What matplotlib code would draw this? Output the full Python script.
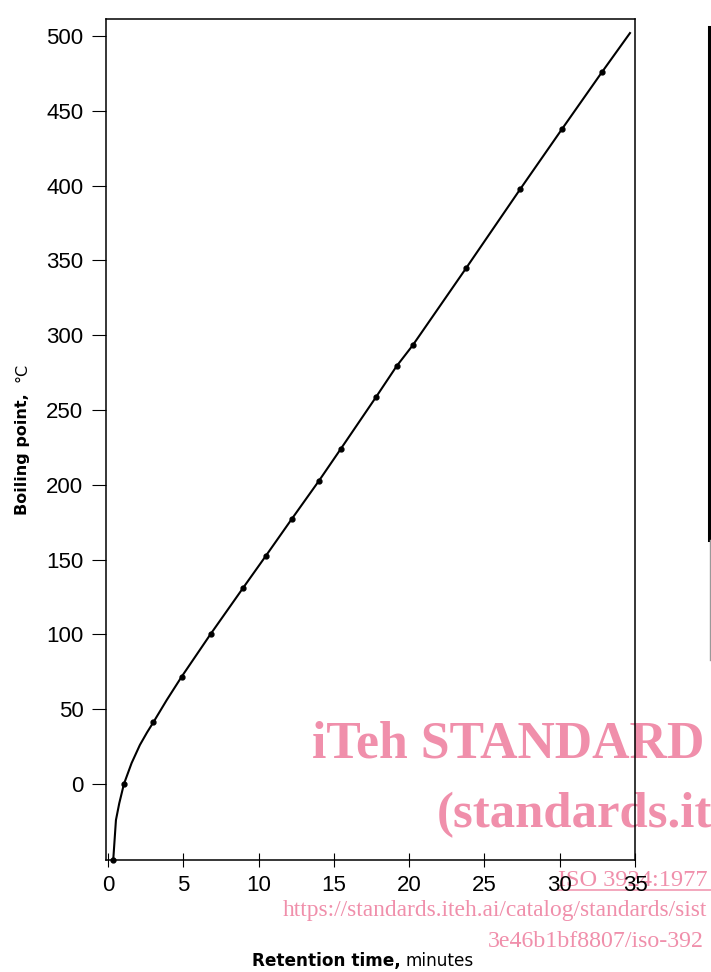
import matplotlib
matplotlib.use("Agg")
import matplotlib.pyplot as plt
from matplotlib.lines import Line2D

# measured points (retention time, min / boiling point, degC)
marker_time = [0.35, 1.06, 3.01, 4.89, 6.82, 8.98, 10.49, 12.20, 14.01, 15.45,
               17.80, 19.17, 20.23, 23.77, 27.36, 30.13, 32.80]
marker_bp = [-50.8, 0, 41.2, 71.7, 100.3, 131.2, 152.6, 177.1, 202.7, 223.9,
             258.7, 279.4, 293.2, 344.7, 397.5, 437.6, 475.9]

# hand-drawn calibration curve
curve_time = [0.35, 0.53, 0.75, 1.06, 1.57, 2.12, 2.59, 3.01, 3.90, 4.89, 6.82,
              8.98, 10.49, 12.20, 14.01, 15.45, 17.80, 19.17, 20.23, 23.77,
              27.36, 30.13, 32.80, 34.66]
curve_bp = [-50.8, -24.1, -12.9, 0, 14.0, 26.1, 34.4, 41.2, 56.1, 71.7, 100.3,
            131.2, 152.6, 177.1, 202.7, 223.9, 258.7, 279.4, 293.2, 344.7,
            397.5, 437.6, 475.9, 502.0]

x_ticks = [0, 5, 10, 15, 20, 25, 30, 35]
y_ticks = [0, 50, 100, 150, 200, 250, 300, 350, 400, 450, 500]

W, H = 711, 972
pink = '#F08FAB'

fig = plt.figure(figsize=(W / 100, H / 100), dpi=100)
fig.patch.set_facecolor('white')


def fx(px):
    return px / W


def fy(py):
    return 1 - py / H


ax = fig.add_axes([fx(105.7), fy(860), fx(635.1) - fx(105.7), fy(19) - fy(860)])
ax.set_facecolor('none')

ax.plot(curve_time, curve_bp, color='black', lw=1.5, clip_on=False, zorder=3,
        solid_joinstyle='round')
ax.plot(marker_time, marker_bp, 'o', color='black', ms=3.5, clip_on=False, zorder=4)

ax.set_xlim(-0.15, 35)
ax.set_ylim(-50.8, 511.4)
ax.set_xticks(x_ticks)
ax.set_yticks(y_ticks)
for s in ax.spines.values():
    s.set_linewidth(1.1)

ax.tick_params(axis='x', direction='inout', length=9.4, width=0.8, pad=6,
               labelsize=16)
ax.tick_params(axis='y', direction='out', length=10, width=0.8, pad=6,
               labelsize=16)
for lab in ax.get_xticklabels() + ax.get_yticklabels():
    lab.set_fontfamily('Liberation Sans')

# axis titles: bold part + plain unit right behind it
t1 = fig.text(fx(252), fy(966), 'Retention time,', fontsize=12.2, fontweight='bold',
              ha='left', va='baseline')
r = fig.canvas.get_renderer()
x_end = t1.get_window_extent(r).x1
fig.text(fx(x_end + 5), fy(966), 'minutes', fontsize=12.2, ha='left', va='baseline')
fig.text(fx(27), fy(515), 'Boiling point,', fontsize=11.5, fontweight='bold',
         rotation=90, rotation_mode='anchor', ha='left', va='baseline')
fig.text(fx(27), fy(381.7), '°C', fontsize=11.5,
         rotation=90, rotation_mode='anchor', ha='left', va='baseline')

# edge of the next page in the scan
fig.add_artist(Line2D([fx(709), fx(709)], [fy(27), fy(540)], color='black', lw=2.2))
fig.add_artist(Line2D([fx(709.5), fx(709.5)], [fy(540), fy(660)], color='#999999', lw=1))

# watermark, drawn under the chart
wm = dict(color=pink, family='Liberation Serif', va='baseline', zorder=-1)
fig.text(fx(312), fy(758), 'iTeh STANDARD', fontsize=37.3, fontweight='bold', **wm)
fig.text(fx(437), fy(826.7), '(standards.it', fontsize=36.5, fontweight='bold', **wm)
fig.text(fx(558), fy(885.7), 'ISO 3924:1977', fontsize=17.6, **wm)
fig.add_artist(Line2D([fx(558), fx(711)], [fy(890), fy(890)], color=pink, lw=1.1, zorder=-1))
fig.text(fx(283), fy(916), 'https://standards.iteh.ai/catalog/standards/sist',
         fontsize=16.9, **wm)
fig.text(fx(488), fy(947), '3e46b1bf8807/iso-392', fontsize=17.2, **wm)

fig.savefig('out.png', dpi=100)
